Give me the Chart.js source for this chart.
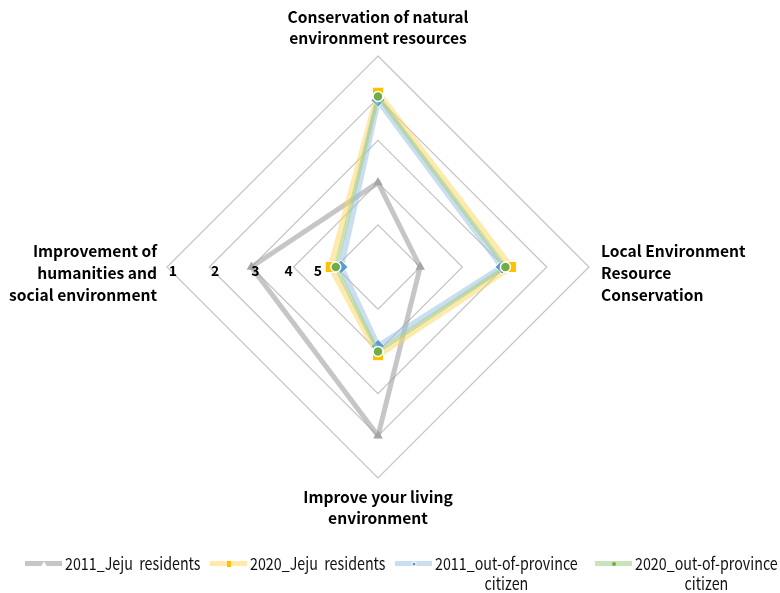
<!DOCTYPE html>
<html>
<head>
<meta charset="utf-8">
<script src="https://cdn.jsdelivr.net/npm/chart.js@4.4.1/dist/chart.umd.min.js"></script>
<style>
  html, body { margin: 0; padding: 0; background: #fff; }
  #wrap { position: relative; width: 780px; height: 593px; overflow: hidden; }
  #chart { position: absolute; left: 0; top: 0; }
  #legend {
    position: absolute; left: 0; top: 553px; width: 780px; height: 40px;
    font-family: "Noto Sans CJK KR", "Noto Sans", sans-serif;
    font-size: 17px; color: #111;
  }
  .item { position: absolute; top: 0; display: flex; align-items: flex-start; }
  .sw { position: relative; width: 37px; height: 20px; flex: none; }
  .sw .ln { position: absolute; left: 0; right: 0; top: 8px; height: 5px; }
  .sw .mk { position: absolute; left: 50%; top: 10.5px; transform: translate(-50%, -50%); }
  .txt {
    white-space: pre; text-align: center; line-height: 20px; margin-left: 3px;
    transform: scaleX(0.84); transform-origin: 0 0;
  }
</style>
</head>
<body>
<div id="wrap">
  <canvas id="chart" width="780" height="593"></canvas>
  <div id="legend"></div>
</div>
<script>
// Four evaluation areas, clockwise from the top
const categories = [
  ["Conservation of natural", "environment resources"],
  ["Local Environment", "Resource", "Conservation"],
  ["Improve your living", "environment"],
  ["Improvement of", "humanities and", "social environment"]
];

// Rank labels (1 = outermost ring)
const tickLabels = ["1", "2", "3", "4", "5"];

// Series names
const seriesNames = [
  "2011_Jeju  residents",
  "2020_Jeju  residents",
  "2011_out-of-province\ncitizen",
  "2020_out-of-province\ncitizen"
];

// Rank values per area
const jeju2011 = [4, 5, 2, 3];
const jeju2020 = [1.87, 2.85, 3.91, 4.88];
const outside2011 = [2.05, 3.06, 4.12, 5.12];
const outside2020 = [1.96, 2.98, 4.0, 5.0];

// Series styling
const lineColors = [
  "rgba(160,160,160,0.6)",
  "rgba(255,214,90,0.5)",
  "rgba(157,195,230,0.55)",
  "rgba(169,209,142,0.6)"
];
const markerColors = ["#a5a5a5", "#ffc000", "#5b9bd5", "#70ad47"];

// Category names and rank numbers drawn around the radar
const axisText = {
  id: "axisText",
  afterDraw(chart) {
    const s = chart.scales.r;
    const ctx = chart.ctx;
    ctx.save();
    ctx.fillStyle = "#000";
    ctx.font = 'bold 15.6px "Noto Sans CJK KR", "Noto Sans", sans-serif';
    const lh = 21.6;
    const pads = [7, 12, 8, 10];
    chart.data.labels.forEach((lines, i) => {
      const p = s.getPointPosition(i, s.drawingArea + pads[i]);
      const n = lines.length;
      let align, y0;
      if (i === 0) { align = "center"; y0 = p.y - n * lh + lh / 2; }
      else if (i === 2) { align = "center"; y0 = p.y + lh / 2; }
      else { align = i === 1 ? "left" : "right"; y0 = p.y - (n - 1) * lh / 2 + 6; }
      ctx.textAlign = align;
      ctx.textBaseline = "middle";
      lines.forEach((t, k) => ctx.fillText(t, p.x, y0 + k * lh));
    });

    // rank numbers along the left spoke
    ctx.font = 'bold 14px "Noto Sans CJK KR", "Noto Sans", sans-serif';
    ctx.textAlign = "center";
    ctx.textBaseline = "middle";
    const nudge = [6, 6, 4, -5, -18];
    tickLabels.forEach((t, k) => {
      const p = s.getPointPosition(3, s.getDistanceFromCenterForValue(Number(t)));
      ctx.fillText(t, p.x + nudge[k], p.y + 4);
    });
    ctx.restore();
  }
};

const chart = new Chart(document.getElementById("chart"), {
  type: "radar",
  data: {
    labels: categories,
    datasets: [
      {
        label: seriesNames[0], data: jeju2011, order: 4,
        borderColor: lineColors[0], borderWidth: 5, fill: false,
        backgroundColor: "transparent",
        pointStyle: "triangle", pointRadius: 5.5,
        pointBackgroundColor: markerColors[0], pointBorderWidth: 0
      },
      {
        label: seriesNames[1], data: jeju2020, order: 3,
        borderColor: lineColors[1], borderWidth: 6, fill: false,
        backgroundColor: "transparent",
        pointStyle: "rect", pointRadius: 7.8,
        pointBackgroundColor: markerColors[1], pointBorderColor: "#fff", pointBorderWidth: 1
      },
      {
        label: seriesNames[2], data: outside2011, order: 2,
        borderColor: lineColors[2], borderWidth: 6, fill: false,
        backgroundColor: "transparent",
        pointStyle: "rectRot", pointRadius: 7,
        pointBackgroundColor: markerColors[2], pointBorderColor: "#fff", pointBorderWidth: 1
      },
      {
        label: seriesNames[3], data: outside2020, order: 1,
        borderColor: lineColors[3], borderWidth: 4, fill: false,
        backgroundColor: "transparent",
        pointStyle: "circle", pointRadius: 5,
        pointBackgroundColor: markerColors[3], pointBorderColor: "#fff", pointBorderWidth: 1.5
      }
    ]
  },
  options: {
    responsive: false,
    animation: false,
    layout: { padding: { left: 0, right: 24, top: 56, bottom: 115 } },
    elements: { line: { tension: 0, borderJoinStyle: "round" } },
    plugins: { legend: { display: false }, tooltip: { enabled: false } },
    scales: {
      r: {
        min: 1, max: 6, reverse: true,
        ticks: { display: false, stepSize: 1 },
        angleLines: { display: false },
        grid: { color: "#c3c3c3", lineWidth: 1.2 },
        pointLabels: { display: false }
      }
    }
  },
  plugins: [axisText]
});

// Legend built from the chart's datasets
const legendLefts = [25, 210, 395, 595];
const legend = document.getElementById("legend");
chart.data.datasets.forEach((ds, i) => {
  const item = document.createElement("div");
  item.className = "item";
  item.style.left = legendLefts[i] + "px";
  const sw = document.createElement("div");
  sw.className = "sw";
  const ln = document.createElement("div");
  ln.className = "ln";
  ln.style.background = ds.borderColor;
  sw.appendChild(ln);
  const mk = document.createElement("div");
  mk.className = "mk";
  if (i === 0) {
    mk.style.width = "0"; mk.style.height = "0";
    mk.style.borderLeft = "3px solid transparent";
    mk.style.borderRight = "3px solid transparent";
    mk.style.borderBottom = "5px solid #fff";
  } else if (i === 1) {
    mk.style.width = "4px"; mk.style.height = "6px"; mk.style.background = markerColors[1];
  } else if (i === 2) {
    mk.style.width = "3px"; mk.style.height = "3px"; mk.style.borderRadius = "50%";
    mk.style.background = markerColors[2]; mk.style.boxShadow = "0 0 0 1px #fff";
  } else {
    mk.style.width = "4px"; mk.style.height = "4px"; mk.style.borderRadius = "50%";
    mk.style.background = markerColors[3];
  }
  sw.appendChild(mk);
  item.appendChild(sw);
  const txt = document.createElement("div");
  txt.className = "txt";
  txt.textContent = ds.label;
  item.appendChild(txt);
  legend.appendChild(item);
});
</script>
</body>
</html>
